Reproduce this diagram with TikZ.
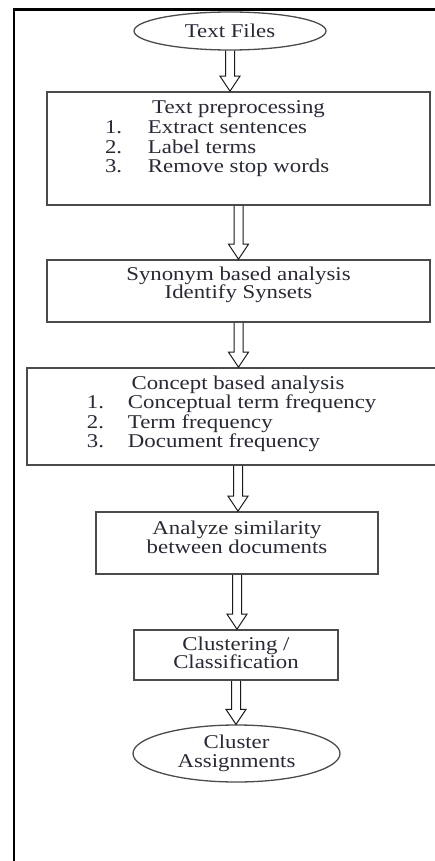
\documentclass[tikz,border=0pt]{standalone}
\usepackage{fontspec}
\setmainfont{Liberation Serif}[FakeStretch=1.17]
\usepackage{tikz}
\usetikzlibrary{shapes.geometric,calc}

\definecolor{inkc}{RGB}{40,40,55}
\definecolor{edgec}{RGB}{75,75,75}

\tikzset{
  stepbox/.style={draw=edgec, line width=1.6pt, rectangle, inner sep=0pt, text=inkc},
  endpoint/.style={draw=edgec, line width=1.3pt, ellipse, inner sep=0pt, text=inkc, align=center},
  hollow/.style={draw=black!90, line width=1pt, line join=miter}
}

\begin{document}
\begin{tikzpicture}[x=1pt, y=-1pt, font=\fontsize{19.5pt}{19.6pt}\selectfont]
\useasboundingbox (0,0) rectangle (435,861);
\clip (0,0) rectangle (435,861);

% frame (only left and top edges show)
\draw[line width=2.6pt] (14,870) -- (14,9.5) -- (440,9.5);

% input
\node[endpoint, minimum width=192pt, minimum height=38pt] (files) at (230,31) {Text Files};

% steps
\node[stepbox] (prep) at (238.5,148.5) {\parbox[c][113pt][t]{383pt}{\centering\rule{0pt}{22pt}Text preprocessing\par
  \raggedright
  \hspace*{58pt}\makebox[43pt][l]{1.}Extract sentences\\
  \hspace*{58pt}\makebox[43pt][l]{2.}Label terms\\
  \hspace*{58pt}\makebox[43pt][l]{3.}Remove stop words}};
\node[stepbox] (syn) at (238.5,291) {\parbox[c][62pt][t]{383pt}{\centering\rule{0pt}{20pt}Synonym based analysis\\[-1pt]
  Identify Synsets}};
\node[stepbox] (concept) at (238,416.5) {\parbox[c][97pt][t]{422pt}{\centering\rule{0pt}{21pt}Concept based analysis\par
  \raggedright
  \hspace*{60pt}\makebox[41pt][l]{1.}Conceptual term frequency\\
  \hspace*{60pt}\makebox[41pt][l]{2.}Term frequency\\
  \hspace*{60pt}\makebox[41pt][l]{3.}Document frequency}};
\node[stepbox] (sim) at (237,543) {\parbox[c][62pt][t]{282pt}{\centering\rule{0pt}{22pt}Analyze similarity\\[-0.6pt]
  between documents}};
\node[stepbox] (clus) at (236,655) {\parbox[c][50pt][t]{204pt}{\centering\rule{0pt}{20pt}Clustering /\\[-1pt]
  Classification}};

% output
\node[endpoint, minimum width=207pt, minimum height=57pt] (assign) at (236.5,753.5) {Cluster\\[-0.6pt] Assignments};

% hollow arrows between steps
\foreach \src/\dst in {files/prep, prep/syn, syn/concept, concept/sim, sim/clus, clus/assign}
  \draw[hollow] let \p1=(\src.south), \p2=(\dst.north) in
    (\x1-4.5pt,\y1) -- (\x1-4.5pt,\y2+15pt) -- (\x1-10pt,\y2+15pt) -- (\x1,\y2)
    -- (\x1+10pt,\y2+15pt) -- (\x1+4.5pt,\y2+15pt) -- (\x1+4.5pt,\y1);
\end{tikzpicture}
\end{document}
